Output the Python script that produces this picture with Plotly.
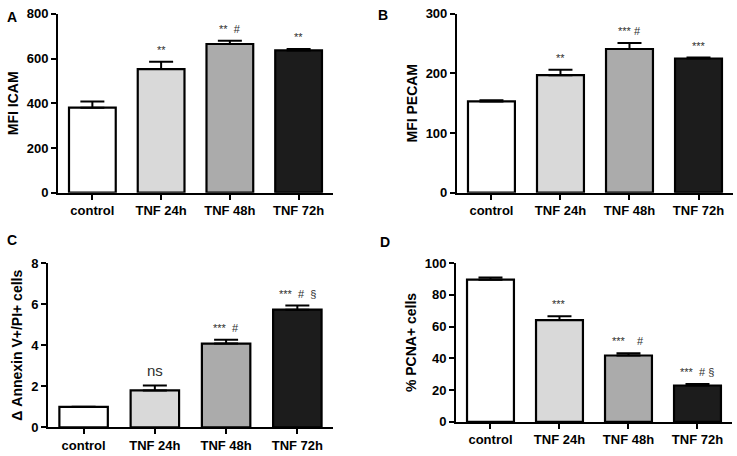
import plotly.graph_objects as go

# categorias (iguales en los cuatro paneles)
grupos = ["control", "TNF 24h", "TNF 48h", "TNF 72h"]
colores = ["#ffffff", "#d9d9d9", "#ababab", "#1c1c1c"]

# panel A - MFI ICAM
icam_media = [380, 553, 665, 636]
icam_err = [28, 33, 14, 7]
icam_sig = ["", "**", "**  #", "**"]

# panel B - MFI PECAM
pecam_media = [153, 197, 241, 225]
pecam_err = [2, 9, 10, 1.5]
pecam_sig = ["", "**", "*** #", "***"]

# panel C - annexin
annexin_media = [1.0, 1.80, 4.08, 5.73]
annexin_err = [0, 0.24, 0.19, 0.20]
annexin_sig = ["", "ns", "***  #", "***  #  §"]

# panel D - PCNA
pcna_media = [89.5, 64.1, 41.8, 22.9]
pcna_err = [1.4, 2.4, 1.4, 1.0]
pcna_sig = ["", "***", "***    #", "***  # §"]

paneles = [
    # datos, errores, signos, titulo y, rango y, dtick, dominio x, dominio y, letra
    (icam_media, icam_err, icam_sig, "MFI ICAM", [0, 800], 200, [0.0787, 0.4518], [0.5789, 0.9846], "A"),
    (pecam_media, pecam_err, pecam_sig, "MFI PECAM", [0, 300], 100, [0.620, 0.9946], [0.5789, 0.9846], "B"),
    (annexin_media, annexin_err, annexin_sig, "\u0394 Annexin V+/PI+ cells", [0, 8], 2, [0.0651, 0.4518], [0.0467, 0.4195], "C"),
    (pcna_media, pcna_err, pcna_sig, "% PCNA+ cells", [0, 100], 20, [0.6187, 0.9932], [0.0592, 0.4195], "D"),
]
letras_pos = [(0.016, 0.978), (0.52, 0.982), (0.016, 0.472), (0.522, 0.467)]

fig = go.Figure()
anotaciones = []
fuente = "Liberation Sans, Arial, sans-serif"

for i, (med, err, sig, titulo, rango, paso, dx, dy, letra) in enumerate(paneles):
    n = "" if i == 0 else str(i + 1)
    fig.add_trace(go.Bar(
        x=grupos, y=med,
        xaxis="x" + n, yaxis="y" + n,
        width=0.68,
        marker=dict(color=colores, line=dict(color="black", width=2.2)),
        error_y=dict(type="data", array=err, arrayminus=[0] * len(err), symmetric=False,
                     color="black", thickness=2, width=12),
        showlegend=False,
    ))
    fig.layout["xaxis" + n] = dict(
        domain=dx, anchor="y" + n, range=[-0.5, 3.5],
        showline=True, linecolor="black", linewidth=2,
        ticks="outside", ticklen=5, tickwidth=1.5, tickcolor="black",
        tickfont=dict(family=fuente, size=13, color="black", weight="bold"),
        showgrid=False, zeroline=False,
    )
    fig.layout["yaxis" + n] = dict(
        domain=dy, anchor="x" + n, range=rango, dtick=paso,
        showline=True, linecolor="black", linewidth=2,
        ticks="outside", ticklen=5, tickwidth=1.5, tickcolor="black",
        tickfont=dict(family=fuente, size=13, color="black", weight="bold"),
        title=dict(text=titulo, font=dict(family=fuente, size=14, color="black", weight="bold"), standoff=5),
        showgrid=False, zeroline=False,
    )
    # etiquetas de significancia
    for g, m, e, s in zip(grupos, med, err, sig):
        if s == "":
            continue
        tam = 15 if s == "ns" else 11
        anotaciones.append(dict(
            x=g, y=m + e, xref="x" + n, yref="y" + n,
            text=s, showarrow=False, yanchor="bottom", yshift=4,
            font=dict(family=fuente, size=tam, color="#2e2e2e"),
        ))
    lx, ly = letras_pos[i]
    anotaciones.append(dict(
        x=lx, y=ly, xref="paper", yref="paper", text=letra, showarrow=False,
        xanchor="center", yanchor="middle",
        font=dict(family=fuente, size=14, color="black", weight="bold"),
    ))

fig.update_layout(
    width=737, height=456,
    margin=dict(l=0, r=0, t=0, b=0),
    plot_bgcolor="white", paper_bgcolor="white",
    annotations=anotaciones,
)
# quitar el margen del body para que la figura empiece en (0,0)
fig.write_html("out.html", config={"displayModeBar": False},
               post_script="document.body.style.margin='0';")
